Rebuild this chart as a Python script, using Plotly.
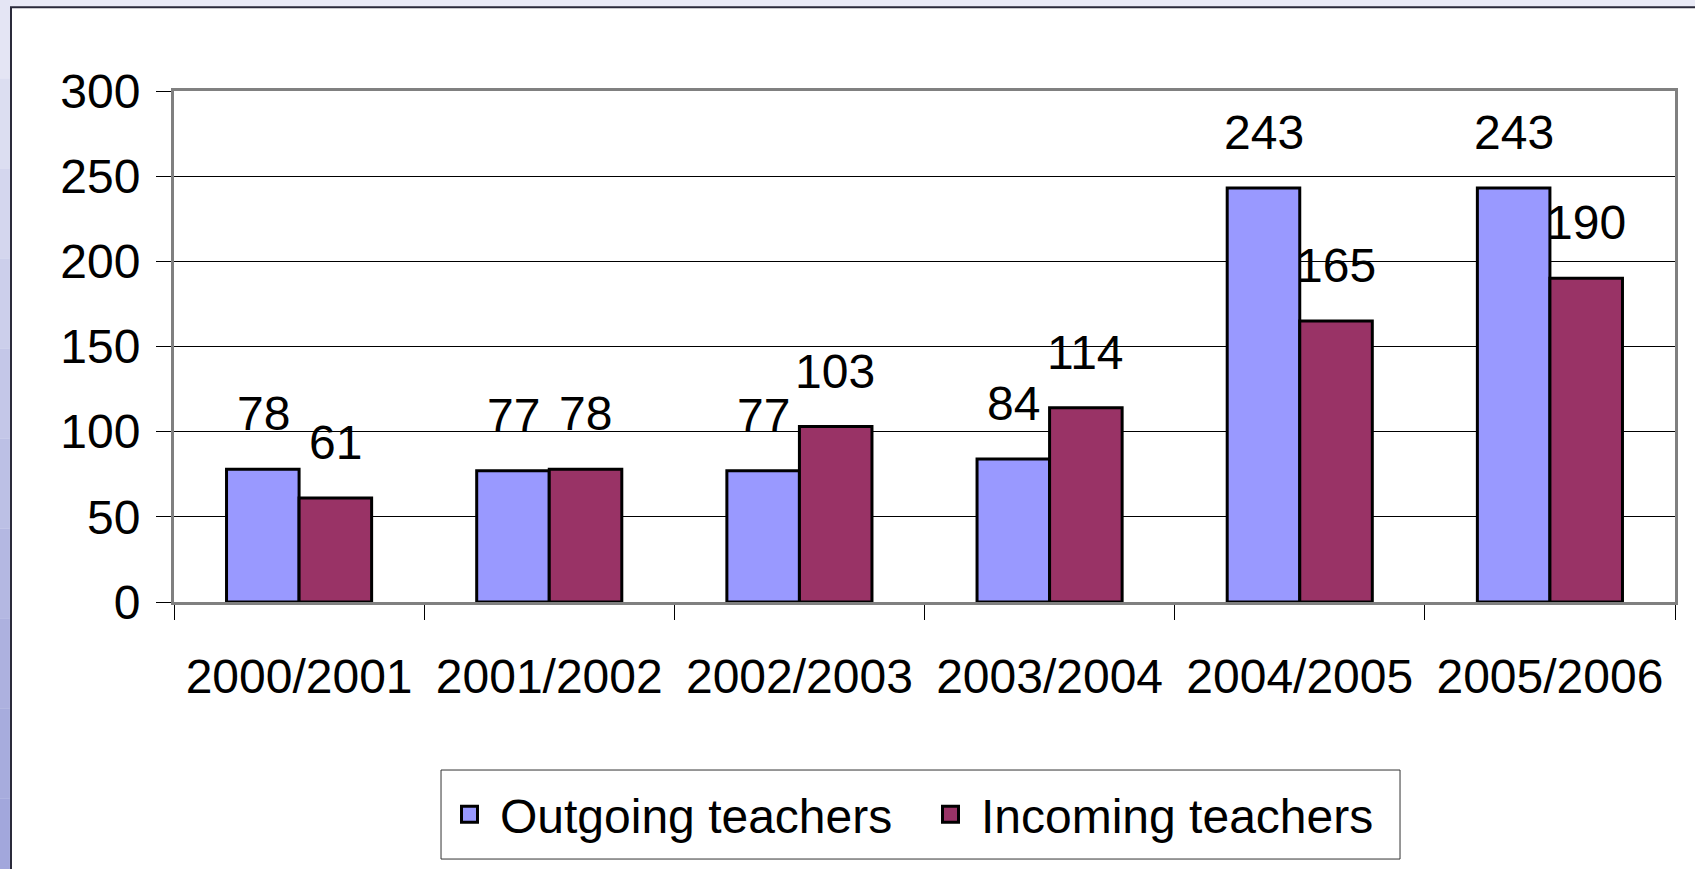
import plotly.graph_objects as go

years = ["2000/2001", "2001/2002", "2002/2003", "2003/2004", "2004/2005", "2005/2006"]
outgoing = [78, 77, 77, 84, 243, 243]
incoming = [61, 78, 103, 114, 165, 190]
names = ["Outgoing teachers", "Incoming teachers"]
colors = ["#9999FF", "#993366"]

font = "Liberation Sans, Arial, sans-serif"

fig = go.Figure()
for vals, nm, col in zip([outgoing, incoming], names, colors):
    fig.add_trace(go.Bar(x=years, y=vals, name=nm, showlegend=False,
                         marker=dict(color=col, line=dict(color="black", width=3))))
# legend entries with bigger square swatches
for nm, col in zip(names, colors):
    fig.add_trace(go.Scatter(x=[None], y=[None], mode="markers", name=nm,
                             marker=dict(symbol="square", size=24, color=col,
                                         line=dict(color="black", width=3))))

# value labels above the bars, excel style gap
anns = []
for vals, shift in [(outgoing, -36), (incoming, 36)]:
    for yr, v in zip(years, vals):
        anns.append(dict(x=yr, y=v, text=str(v), showarrow=False, xshift=shift,
                         yshift=27, yanchor="bottom",
                         font=dict(size=48, color="black", family=font)))

# white frame + left gradient strip
fig.add_shape(type="rect", xref="paper", yref="paper", x0=-0.1086, x1=1.05, y0=-0.56, y1=1.164,
              fillcolor="white", line=dict(color="#2a2a3a", width=2), layer="below")
strip_cols = ["#e4e5f4", "#dcdef1", "#d4d6ee", "#cccfeb", "#c4c7e8", "#bcc0e5",
              "#b4b8e2", "#adb1df", "#a7acdd", "#a2a7dc"]
n = len(strip_cols)
top, bot = 1.2, -0.56
for i, c in enumerate(strip_cols):
    fig.add_shape(type="rect", xref="paper", yref="paper", x0=-0.13, x1=-0.1093,
                  y0=top - (i + 1) * (top - bot) / n, y1=top - i * (top - bot) / n,
                  fillcolor=c, line=dict(width=0), layer="below")
# legend box (taller than plotly's own border)
fig.add_shape(type="rect", xref="paper", yref="paper", x0=0.1779, x1=0.8168, y0=-0.503, y1=-0.3288,
              fillcolor="white", line=dict(color="#333333", width=1), layer="below")

fig.update_layout(
    width=1695, height=869,
    margin=dict(l=174, r=20, t=91, b=267),
    paper_bgcolor="#e9eaf6", plot_bgcolor="white",
    barmode="group", bargap=0.42, bargroupgap=0,
    font=dict(family=font, size=48, color="black"),
    annotations=anns,
    legend=dict(orientation="h", x=0.497, xanchor="center", y=-0.416, yanchor="middle",
                borderwidth=0, bgcolor="rgba(0,0,0,0)",
                font=dict(size=48), itemwidth=51, entrywidth=415),
    xaxis=dict(showline=True, linecolor="#808080", linewidth=3, mirror=True,
               ticks="outside", tickson="boundaries", ticklen=15, tickcolor="black",
               tickwidth=1, ticklabelstandoff=30, showgrid=False),
    yaxis=dict(range=[0, 300], dtick=50, showline=True, linecolor="#808080", linewidth=3,
               mirror=True, ticks="outside", ticklen=15, tickcolor="black", tickwidth=1,
               showgrid=True, gridcolor="black", gridwidth=1, zeroline=False,
               ticklabelstandoff=6),
)

fig.write_html("out.html", config={"displayModeBar": False},
               post_script="document.body.style.margin='0';")
